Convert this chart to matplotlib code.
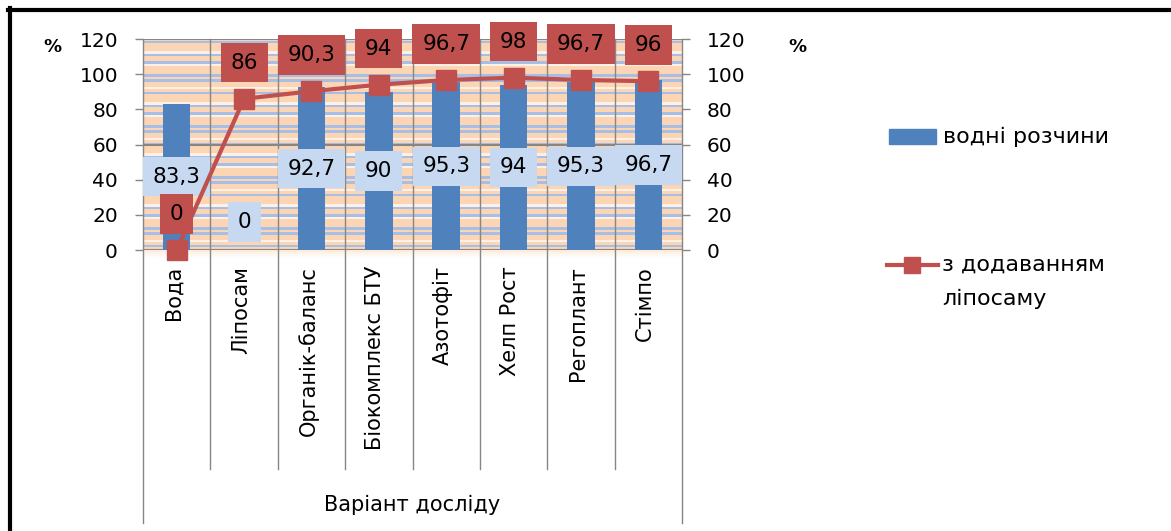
import numpy as np
import matplotlib
matplotlib.use('Agg')
import matplotlib.pyplot as plt
from matplotlib.patches import Rectangle
from matplotlib.lines import Line2D

plt.rcParams['font.family'] = ['DejaVu Sans']

# data
categories = ['Вода', 'Ліпосам', 'Органік-баланс', 'Біокомплекс БТУ',
              'Азотофіт', 'Хелп Рост', 'Регоплант', 'Стімпо']
water = [83.3, 0, 92.7, 90, 95.3, 94, 95.3, 96.7]
liposam = [0, 86, 90.3, 94, 96.7, 98, 96.7, 96]
yticks = [0, 20, 40, 60, 80, 100, 120]
legend_bar = 'водні розчини'
legend_line = ['з додаванням', 'ліпосаму']
xlabel = 'Варіант досліду'

BLUE = '#4f81bd'
RED = '#c0504d'
LBLUE = '#c6d9f1'
GRAY = '#868686'

W, H = 1171, 531
fig = plt.figure(figsize=(W / 100, H / 100), dpi=100)
fig.patch.set_facecolor('white')

# plot area in pixels: x 143..682, y 39..250
ax = fig.add_axes([143 / W, 1 - 250 / H, (682 - 143) / W, 211 / H])
ax.set_xlim(-0.5, 7.5)
ax.set_ylim(0, 120)
ax.set_facecolor('#fcd5b4')
for s in ax.spines.values():
    s.set_visible(False)

# striped background texture (decoration only)
pattern = 'pbpwppbpbpppwbppbwpp'
cols = {'b': '#a7bfe7', 'p': '#fcd5b4', 'w': '#fdf0e6'}
step = 1.45
y = 0.0
k = 0
while y < 120:
    c = pattern[k % len(pattern)]
    ax.axhspan(y, min(y + step, 120), color=cols[c], lw=0, zorder=0)
    y += step
    k += 1

# soft glow below the plot area
for j, a in enumerate([0.35, 0.22, 0.12, 0.05]):
    ax.axhspan(-1.2 * (j + 1), -1.2 * j, color='#f9c9a3', alpha=a, lw=0,
               zorder=0, clip_on=False)

for g in [0, 60, 120]:
    ax.axhline(g, color=GRAY, lw=1.5, zorder=1)

# category separators (multi-level axis look)
xt = ax.get_xaxis_transform()
bounds = np.arange(-0.5, 8, 1.0)
for i, b in enumerate(bounds):
    low = -1.294 if i in (0, len(bounds) - 1) else -1.038
    ax.plot([b, b], [1, low], color=GRAY, lw=1, transform=xt, clip_on=False, zorder=1)

x = np.arange(len(categories))
ax.bar(x, water, width=0.41, color=BLUE, zorder=2)

def fmt(v):
    return f'{v:g}'.replace('.', ',')

for xi, v in zip(x, water):
    yl = v / 2 if v > 0 else 16
    ax.text(xi, yl, fmt(v), ha='center', va='center', fontsize=15.5, zorder=3,
            bbox=dict(boxstyle='square,pad=0.45', fc=LBLUE, ec='none'))

ax.set_xticks([])
ax.set_yticks(yticks)
ax.tick_params(axis='y', length=6, width=1, color=GRAY, pad=12, labelsize=14.5)

for xi, name in zip(x, categories):
    ax.text(xi - 0.05, (250 - 266) / 211, name, rotation=90, ha='center', va='top',
            fontsize=15, transform=xt)
ax.text(3.5, (250 - 505) / 211, xlabel, ha='center', va='center', fontsize=15,
        transform=xt)

ax2 = ax.twinx()
ax2.set_ylim(0, 120)
for s in ax2.spines.values():
    s.set_visible(False)
ax2.set_yticks(yticks)
ax2.tick_params(axis='y', length=6, width=1, color=GRAY, pad=12, labelsize=14.5)
ax2.plot(x, liposam, color=RED, lw=3, marker='s', ms=14, clip_on=False, zorder=4)
for xi, v in zip(x, liposam):
    ax2.annotate(fmt(v), (xi, v), xytext=(0, 26), textcoords='offset points',
                 ha='center', va='center', fontsize=15.5, zorder=5,
                 bbox=dict(boxstyle='square,pad=0.45', fc=RED, ec='none'))

# percent signs
fig.text(52 / W, 1 - 47 / H, '%', ha='center', va='center', fontsize=13, fontweight='bold')
fig.text(797 / W, 1 - 47 / H, '%', ha='center', va='center', fontsize=13, fontweight='bold')

# legend
fig.patches.append(Rectangle((889 / W, 1 - 144 / H), 47 / W, 15 / H,
                             transform=fig.transFigure, color=BLUE))
fig.text(943 / W, 1 - 137 / H, legend_bar, ha='left', va='center', fontsize=16)
fig.lines.append(Line2D([887 / W, 938 / W], [1 - 265 / H, 1 - 265 / H],
                        transform=fig.transFigure, color=RED, lw=3))
fig.lines.append(Line2D([912 / W], [1 - 265 / H], transform=fig.transFigure,
                        color=RED, marker='s', ms=11, lw=0))
fig.text(942 / W, 1 - 265 / H, legend_line[0], ha='left', va='center', fontsize=16)
fig.text(942 / W, 1 - 299 / H, legend_line[1], ha='left', va='center', fontsize=16)

# outer frame (left and top)
fig.lines.append(Line2D([10 / W, 10 / W], [0, 1 - 8 / H], transform=fig.transFigure,
                        color='black', lw=3))
fig.lines.append(Line2D([8 / W, 1], [1 - 10 / H, 1 - 10 / H], transform=fig.transFigure,
                        color='black', lw=3))

fig.savefig('out.png', dpi=100)
